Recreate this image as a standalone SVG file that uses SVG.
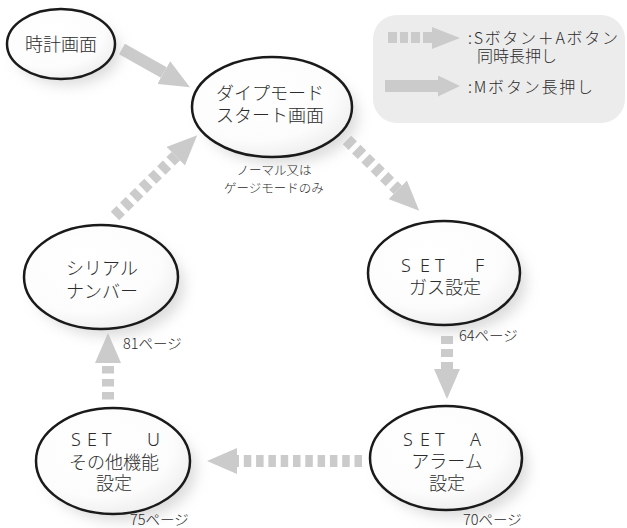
<svg xmlns="http://www.w3.org/2000/svg" width="627" height="528" viewBox="0 0 627 528">
<defs>
<style>
.node{fill:url(#nodeFill);stroke:#1a1a1a;stroke-width:2.5}
.shadow{fill:#bdbdbd;filter:url(#blur);opacity:0.55}
.t{font-family:"Noto Sans CJK JP","Noto Sans",sans-serif;fill:#2b2b2b;font-weight:300}
.lab{font-size:18px;text-anchor:middle}
.set{font-size:18px;font-family:"Noto Sans","Noto Sans CJK JP",sans-serif;fill:#2b2b2b;font-weight:300}
.pg{font-size:14.5px}
.note{font-size:12.5px;text-anchor:middle}
.leg{font-size:16px}
.solid{stroke:#cbcbcb;stroke-width:12;fill:none;marker-end:url(#head)}
.dash{stroke:#cbcbcb;stroke-width:12;fill:none;stroke-dasharray:8 5;marker-end:url(#head)}
.ah{fill:#cbcbcb}
</style>
<filter id="blur" x="-30%" y="-30%" width="160%" height="160%"><feGaussianBlur stdDeviation="7"/></filter>
<radialGradient id="nodeFill" cx="0.4" cy="0.35" r="0.7">
<stop offset="0" stop-color="#ffffff"/>
<stop offset="0.7" stop-color="#fcfcfc"/>
<stop offset="1" stop-color="#ededed"/>
</radialGradient>
<marker id="head" markerUnits="userSpaceOnUse" viewBox="0 0 30 26" refX="0" refY="13" markerWidth="30" markerHeight="26" orient="auto">
<path d="M0,0 L30,13 L0,26 z" fill="#cbcbcb"/>
</marker>
</defs>
<rect width="627" height="528" fill="#ffffff"/>

<g id="legend">
<rect x="373" y="15" width="252" height="108" rx="24" fill="#ececec"/>
<rect x="388" y="32" width="9" height="11" class="ah"/>
<rect x="400" y="32" width="8" height="11" class="ah"/>
<rect x="411" y="32" width="9" height="11" class="ah"/>
<polygon points="423,32 432,32 432,27 460,38 432,49 432,43 423,43" class="ah"/>
<polygon points="385,80 438,80 438,75.5 460,86 438,96.5 438,92 385,92" class="ah"/>
<text class="t leg" x="468" y="44" textLength="150" lengthAdjust="spacing">:Sボタン＋Aボタン</text>
<text class="t leg" x="477" y="62">同時長押し</text>
<text class="t leg" x="468" y="93" textLength="125" lengthAdjust="spacing">:Mボタン長押し</text>
</g>

<g id="connectors">
<line class="solid" x1="122" y1="49" x2="163.8" y2="72.5"/>
<line class="dash" x1="347" y1="140" x2="397.8" y2="189.8"/>
<line class="dash" x1="447" y1="336" x2="447" y2="369"/>
<line class="dash" x1="362" y1="461" x2="237" y2="461" style="stroke-dasharray:7.5 4.8"/>
<line class="dash" x1="108" y1="399.5" x2="108" y2="363" style="stroke-dasharray:7.5 5.5"/>
<line class="dash" x1="115" y1="216" x2="175.8" y2="156.2"/>
</g>

<g id="clock">
<ellipse class="shadow" cx="68" cy="52" rx="52" ry="33"/>
<ellipse class="node" cx="61" cy="44" rx="54" ry="35"/>
<text class="t lab" x="61" y="51">時計画面</text>
</g>

<g id="dive-start">
<ellipse class="shadow" cx="280" cy="116" rx="78" ry="48"/>
<ellipse class="node" cx="272" cy="107" rx="80" ry="50"/>
<text class="t lab" x="270" y="100">ダイプモード</text>
<text class="t lab" x="270" y="122">スタート画面</text>
<text class="t note" x="274" y="175">ノーマル又は</text>
<text class="t note" x="274" y="193">ゲージモードのみ</text>
</g>

<g id="set-f">
<ellipse class="shadow" cx="452" cy="282" rx="74" ry="50"/>
<ellipse class="node" cx="444" cy="273" rx="76" ry="52"/>
<text class="set" x="401 420 435 455 475" y="272">SET F</text>
<text class="t lab" x="445" y="294">ガス設定</text>
<text class="t pg" x="459" y="341">64ページ</text>
</g>

<g id="set-a">
<ellipse class="shadow" cx="454" cy="467" rx="74" ry="50"/>
<ellipse class="node" cx="446" cy="458" rx="76" ry="52"/>
<text class="set" x="403 420 435 452 470" y="446">SET A</text>
<text class="t lab" x="447" y="468">アラーム</text>
<text class="t lab" x="447" y="490">設定</text>
<text class="t pg" x="463" y="525">70ページ</text>
</g>

<g id="set-u">
<ellipse class="shadow" cx="121" cy="470" rx="75" ry="51"/>
<ellipse class="node" cx="113" cy="461" rx="77" ry="53"/>
<text class="set" x="71 87 102 125 147" y="446">SET U</text>
<text class="t lab" x="114" y="469">その他機能</text>
<text class="t lab" x="114" y="490">設定</text>
<text class="t pg" x="130" y="525">75ページ</text>
</g>

<g id="serial">
<ellipse class="shadow" cx="109" cy="286" rx="75" ry="50"/>
<ellipse class="node" cx="101" cy="277" rx="77" ry="52"/>
<text class="t lab" x="102" y="275">シリアル</text>
<text class="t lab" x="102" y="298">ナンバー</text>
<text class="t pg" x="123" y="349">81ページ</text>
</g>
</svg>
